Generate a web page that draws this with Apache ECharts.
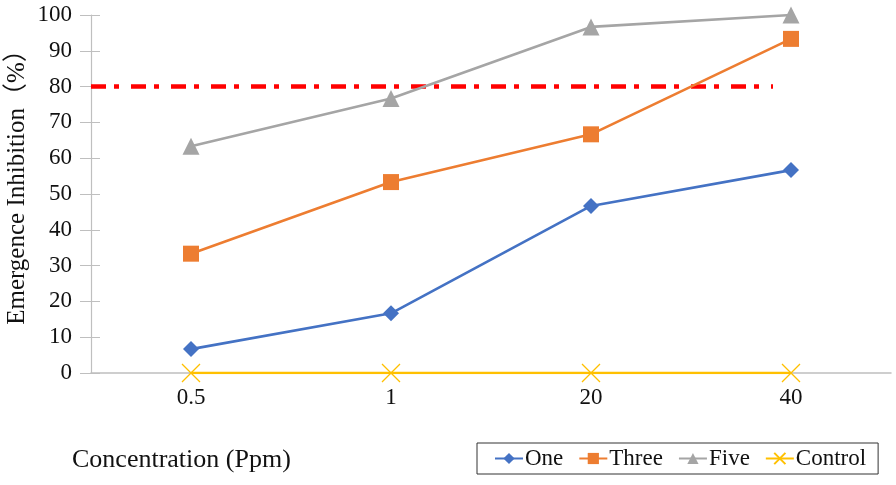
<!DOCTYPE html>
<html><head><meta charset="utf-8">
<script src="https://cdn.jsdelivr.net/npm/echarts@6/dist/echarts.min.js"></script>
<style>html,body{margin:0;padding:0;background:#fff}#c{width:896px;height:485px}</style>
</head><body><div id="c"></div>
<script>
const categories = ['0.5', '1', '20', '40'];
const one = [6.67, 16.67, 46.67, 56.67];
const three = [33.33, 53.33, 66.67, 93.33];
const five = [63.33, 76.67, 96.67, 100];
const control = [0, 0, 0, 0];
const thresholdValue = 80;
const thresholdSpan = [0, 3.41]; // in category-width units from axis start
const yTicks = [0, 10, 20, 30, 40, 50, 60, 70, 80, 90, 100];

const FONT = 'Liberation Serif, Noto Sans CJK SC, serif';
const chart = echarts.init(document.getElementById('c'));
const lineCommon = { type: 'line', xAxisIndex: 0, yAxisIndex: 0, lineStyle: { width: 2.6 }, emphasis: { disabled: true } };

chart.setOption({
  animation: false,
  grid: { left: 91, right: 5, top: 15, bottom: 112 },
  xAxis: [
    { type: 'category', data: categories, boundaryGap: true,
      axisLine: { lineStyle: { color: '#bfbfbf', width: 1.5 } }, axisTick: { show: false },
      axisLabel: { color: '#111', fontFamily: FONT, fontSize: 23, margin: 13 } },
    { type: 'value', min: 0, max: categories.length, show: false }
  ],
  yAxis: [
    { type: 'value', min: 0, max: 100, interval: 10,
      axisLine: { show: true, lineStyle: { color: '#bfbfbf', width: 1.2 } },
      axisTick: { show: true, length: 11, lineStyle: { color: '#bfbfbf' } },
      splitLine: { show: false },
      axisLabel: { color: '#111', fontFamily: FONT, fontSize: 23, margin: 19,
        formatter: v => yTicks.includes(v) ? String(v) : '' } },
    { type: 'value', min: 0, max: 100, interval: 10, position: 'left',
      axisLine: { show: false }, axisTick: { show: true, inside: true, length: 9, lineStyle: { color: '#bfbfbf' } },
      axisLabel: { show: false }, splitLine: { show: false } }
  ],
  legend: {
    left: 477, top: 443,
    padding: [4, 12, 4, 17], itemGap: 15, itemWidth: 28, itemHeight: 14,
    borderColor: '#333', borderWidth: 1,
    textStyle: { fontFamily: FONT, fontSize: 23, color: '#111', padding: [0, 0, 0, -3] },
    data: ['One', 'Three', 'Five', 'Control']
  },
  graphic: [
    { type: 'text', left: 72, top: 447, style: { text: 'Concentration (Ppm)', font: '26px ' + FONT, fill: '#111' } },
    { type: 'text', x: 5, y: 181, rotation: Math.PI / 2,
      style: { text: 'Emergence Inhibition（%）', font: '25px ' + FONT, fill: '#111', align: 'center', verticalAlign: 'top' } }
  ],
  series: [
    { ...lineCommon, name: 'Threshold', xAxisIndex: 1, data: thresholdSpan.map(x => [x, thresholdValue]),
      symbol: 'none', lineStyle: { color: '#ff0000', width: 4.5, type: [15, 8, 5, 12] }, z: 1 },
    { ...lineCommon, name: 'Control', data: control, color: '#FFC000',
      symbol: 'path://M0,0L20,20M20,0L0,20', symbolSize: 18,
      itemStyle: { color: 'rgba(0,0,0,0)', borderColor: '#FFC000', borderWidth: 1.3 },
      lineStyle: { width: 2.6, color: '#FFC000' } },
    { ...lineCommon, name: 'One', data: one, color: '#4472C4', symbol: 'diamond', symbolSize: 16, itemStyle: { color: '#4472C4' } },
    { ...lineCommon, name: 'Three', data: three, color: '#ED7D31', symbol: 'rect', symbolSize: 16, itemStyle: { color: '#ED7D31' } },
    { ...lineCommon, name: 'Five', data: five, color: '#A5A5A5', symbol: 'triangle', symbolSize: 17, itemStyle: { color: '#A5A5A5' } }
  ]
});
</script></body></html>
